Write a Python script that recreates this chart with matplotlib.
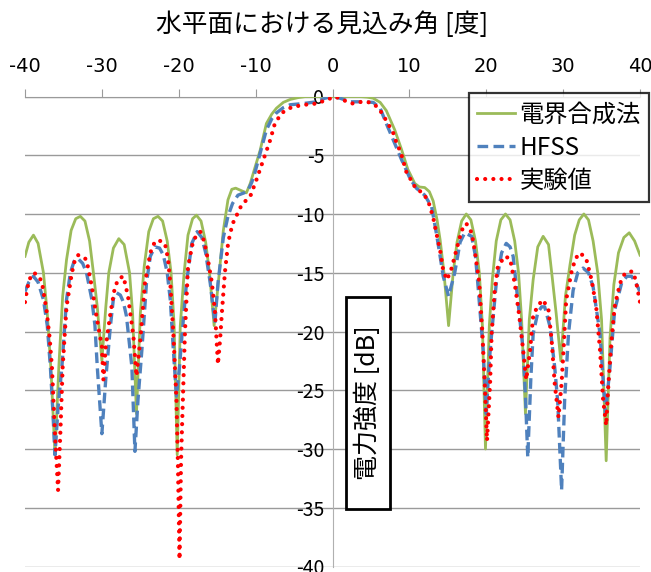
import matplotlib
matplotlib.use('Agg')
import matplotlib.pyplot as plt
from matplotlib.patches import Rectangle

plt.rcParams['font.family'] = ['Noto Sans CJK JP', 'DejaVu Sans']
plt.rcParams['axes.unicode_minus'] = False

# horizontal viewing angle [deg] vs. power [dB]
green_x = [-40.0, -39.5, -38.9, -38.3, -37.6, -37.1, -36.6, -36.1, -35.6, -35.1, -34.6, -34.0,
           -33.4, -32.8, -32.2, -31.6, -31.1, -30.6, -30.0, -29.5, -29.1, -28.5, -27.8, -27.1,
           -26.4, -26.0, -25.5, -25.0, -24.5, -23.9, -23.3, -22.7, -22.1, -21.5, -21.0, -20.6,
           -20.2, -19.8, -19.3, -18.8, -18.2, -17.7, -17.1, -16.5, -16.0, -15.4, -14.8, -14.2,
           -13.6, -13.1, -12.6, -11.9, -11.2, -10.7, -10.2, -9.4, -8.6, -7.9, -7.3, -6.4, -5.5,
           -4.5, -3.5, 0.0, 3.5, 4.5, 5.3, 6.2, 7.0, 8.1, 9.0, 9.8, 10.7, 11.3, 12.0, 12.6, 13.1,
           13.6, 14.0, 14.5, 15.1, 15.7, 16.2, 16.8, 17.4, 18.0, 18.6, 19.1, 19.5, 19.9, 20.4,
           20.8, 21.3, 21.9, 22.5, 23.1, 23.7, 24.2, 24.6, 25.1, 25.6, 26.1, 26.7, 27.4, 28.1,
           28.6, 29.1, 29.7, 30.3, 30.9, 31.5, 32.1, 32.7, 33.3, 33.9, 34.5, 35.0, 35.6, 36.1,
           36.6, 37.2, 37.9, 38.6, 39.3, 40.0]
green_y = [-13.6, -12.4, -11.8, -12.5, -15.0, -18.5, -23.5, -30.5, -23.0, -17.0, -13.9, -11.4,
           -10.4, -10.2, -10.6, -12.3, -15.0, -17.9, -22.5, -18.0, -15.0, -12.9, -12.1, -12.6,
           -15.0, -18.5, -27.0, -18.5, -14.5, -11.5, -10.4, -10.2, -10.6, -12.3, -15.0, -19.5,
           -30.5, -19.5, -15.0, -11.8, -10.4, -10.1, -10.6, -12.4, -15.0, -19.5, -15.5, -11.4,
           -8.8, -7.9, -7.8, -8.0, -8.2, -7.4, -6.3, -4.55, -2.3, -1.5, -1.0, -0.5, -0.25,
           -0.1, 0.0, 0.0, 0.0, -0.05, -0.15, -0.5, -1.2, -2.85, -4.55, -6.2, -7.4, -7.7, -7.75,
           -8.1, -8.9, -10.5, -12.2, -15.0, -19.5, -15.0, -12.4, -10.6, -10.0, -10.5, -12.3,
           -15.0, -19.5, -30.0, -19.5, -15.5, -12.3, -10.5, -10.0, -10.5, -12.3, -15.0, -19.0,
           -27.0, -19.0, -15.6, -12.8, -11.9, -12.6, -15.5, -18.5, -22.5, -17.0, -14.3, -11.8,
           -10.5, -10.0, -10.5, -12.3, -15.0, -19.0, -31.0, -20.5, -16.0, -13.3, -12.0, -11.6,
           -12.3, -13.5]

hfss_x = [-40.0, -39.5, -38.9, -38.3, -37.6, -37.1, -36.7, -36.4, -36.1, -35.7, -35.2, -34.6,
          -34.1, -33.6, -33.1, -32.5, -32.0, -31.3, -30.9, -30.6, -30.0, -29.5, -28.9, -28.5,
          -28.1, -27.6, -27.2, -26.8, -26.1, -25.7, -25.3, -24.8, -24.2, -23.7, -23.1, -22.5,
          -22.0, -21.5, -21.1, -20.7, -20.3, -19.9, -19.6, -19.0, -18.3, -17.6, -17.0, -16.5,
          -15.9, -15.3, -14.9, -14.2, -13.6, -13.0, -12.3, -11.5, -11.0, -10.5, -10.1, -9.4,
          -8.6, -7.9, -7.3, -6.4, -5.5, -3.8, -2.1, -1.0, 0.0, 1.0, 2.3, 3.8, 5.3, 6.2, 7.0,
          8.1, 9.0, 10.1, 10.9, 12.0, 12.9, 13.5, 14.0, 14.4, 15.1, 15.9, 16.6, 17.2, 18.1,
          18.6, 18.9, 19.6, 20.0, 20.4, 20.7, 21.3, 22.0, 22.6, 23.1, 23.5, 24.1, 24.8, 25.1,
          25.4, 25.8, 26.1, 26.7, 27.2, 27.6, 28.3, 28.9, 29.3, 29.8, 30.2, 30.7, 31.3, 31.9,
          32.6, 33.3, 33.9, 34.8, 35.5, 36.1, 36.7, 37.6, 38.3, 38.9, 39.4, 40.0]
hfss_y = [-16.6, -15.8, -15.3, -15.8, -17.3, -19.5, -23.0, -26.5, -30.5, -26.5, -23.0, -17.3,
          -15.0, -14.0, -13.8, -14.2, -15.0, -17.3, -19.5, -23.0, -28.7, -24.1, -19.6, -17.2,
          -16.7, -16.9, -17.5, -18.7, -23.0, -30.2, -25.8, -21.6, -15.9, -13.6, -12.8, -12.9,
          -13.5, -15.0, -17.3, -21.6, -25.5, -23.0, -20.5, -15.9, -12.5, -11.5, -12.0, -13.3,
          -15.9, -19.3, -15.9, -12.0, -10.2, -9.1, -8.4, -8.2, -8.0, -7.3, -6.5, -4.8,
          -2.85, -1.9, -1.4, -0.95, -0.7, -0.6, -0.45, -0.15, 0.0, -0.15, -0.45, -0.45, -0.5,
          -1.0, -2.3, -4.0, -5.4, -7.0, -7.8, -8.4, -9.4, -11.6, -13.6, -15.3, -17.0, -15.0,
          -12.4, -11.6, -11.9, -13.6, -15.9, -21.6, -27.0, -22.5, -20.2, -15.9, -13.3, -12.5,
          -12.8, -13.6, -17.3, -21.6, -25.5, -30.7, -24.0, -20.2, -18.4, -17.9, -17.9, -19.6,
          -23.0, -26.0, -33.5, -25.8, -20.2, -16.5, -15.0, -14.6, -15.0, -16.2, -20.2, -27.0,
          -23.0, -18.2, -15.9, -15.3, -15.3, -15.8, -16.6]

meas_x = [-40.0, -39.7, -39.3, -38.9, -38.3, -37.8, -37.2, -36.8, -36.5, -36.1, -35.7, -35.4,
          -35.1, -34.6, -33.9, -33.5, -33.1, -32.5, -32.0, -31.3, -30.7, -30.0, -29.8, -29.5,
          -28.9, -28.3, -27.8, -27.2, -26.6, -25.9, -25.5, -25.0, -24.4, -23.7, -23.2, -22.7,
          -21.8, -21.4, -21.1, -20.7, -20.3, -20.1, -19.9, -19.7, -19.6, -19.2, -18.8, -18.1,
          -17.2, -16.7, -16.2, -15.7, -15.3, -14.9, -14.6, -14.4, -14.0, -13.6, -13.3, -12.9,
          -11.8, -10.7, -9.9, -9.0, -8.1, -7.5, -6.6, -5.3, -3.6, -2.1, -0.8, 0.3, 1.4, 2.5,
          3.8, 4.9, 5.9, 6.6, 7.2, 7.9, 8.3, 8.9, 9.6, 10.3, 10.9, 11.8, 12.5, 13.1, 13.5, 14.0,
          14.4, 14.9, 15.5, 16.1, 16.8, 17.4, 18.1, 18.5, 19.1, 19.5, 19.8, 20.1, 20.5, 20.7,
          21.1, 21.5, 22.4, 23.1, 23.7, 24.3, 24.8, 25.2, 25.7, 26.1, 26.7, 27.4, 28.1, 28.5,
          28.9, 29.4, 29.8, 30.1, 30.4, 31.1, 31.6, 32.2, 33.0, 33.7, 34.3, 34.8, 35.2, 35.6,
          35.9, 36.3, 36.7, 37.4, 38.0, 38.5, 39.1, 39.5, 40.0]
meas_y = [-17.5, -16.3, -15.4, -15.0, -15.2, -15.8, -18.2, -20.5, -23.0, -28.7, -33.5, -28.6,
          -23.0, -17.9, -15.0, -13.9, -13.5, -13.6, -13.9, -16.2, -18.7, -21.3, -24.1, -21.3,
          -18.5, -16.2, -15.5, -15.3, -17.0, -20.4, -23.8, -20.7, -15.9, -13.3, -12.5, -12.2,
          -12.5, -13.8, -15.9, -20.2, -25.8, -31.5, -39.4, -31.0, -28.7, -20.2, -14.5, -12.2,
          -11.5, -12.3, -13.9, -15.8, -18.2, -22.8, -20.5, -18.5, -15.0, -12.6, -11.6, -10.7,
          -9.2, -8.5, -7.1, -5.4, -3.7, -2.3, -1.4, -0.9, -0.7, -0.6, -0.3, 0.0, -0.3, -0.6,
          -0.45, -0.5, -0.9, -1.6, -2.3, -3.1, -3.9, -4.8, -6.4, -7.2, -7.9, -8.2, -9.0, -10.3,
          -11.6, -13.1, -14.8, -15.6, -14.6, -13.1, -11.4, -10.8, -11.6, -13.1, -15.9, -20.2,
          -24.4, -29.3, -24.4, -20.2, -16.5, -14.5, -13.6, -13.8, -15.9, -18.7, -21.6, -24.1,
          -21.6, -18.7, -17.8, -17.3, -18.2, -20.7, -24.4, -27.3, -24.4, -21.0, -17.3, -14.9,
          -13.8, -13.3, -13.8, -15.6, -17.9, -21.6, -25.8, -28.0, -24.4, -20.7, -17.9, -15.9,
          -15.1, -14.9, -14.9, -15.8, -17.5]

x_ticks = [-40, -30, -20, -10, 0, 10, 20, 30, 40]
y_ticks = [0, -5, -10, -15, -20, -25, -30, -35, -40]
series_names = ['電界合成法', 'HFSS', '実験値']

grid_col = '#9a9a9a'

fig = plt.figure(figsize=(6.51, 5.72), dpi=100)
ax = fig.add_axes([25 / 651, 5.5 / 572, 615 / 651, 470 / 572])

ax.plot(green_x, green_y, color='#9bbb59', lw=2.0, label=series_names[0], zorder=3)
ax.plot(hfss_x, hfss_y, color='#4f81bd', lw=2.4, linestyle=(0, (3.2, 1.6)),
        label=series_names[1], zorder=4)
ax.plot(meas_x, meas_y, color='#ff0000', lw=3.0, linestyle=(0, (0.01, 1.95)),
        dash_capstyle='round', label=series_names[2], zorder=5)

ax.set_xlim(-40, 40)
ax.set_ylim(-40, 0)

# x axis along the top, y axis through x = 0
ax.xaxis.tick_top()
ax.set_xticks(x_ticks)
ax.set_xticklabels([str(v) for v in x_ticks], family='DejaVu Sans')
ax.set_yticks(y_ticks)
ax.set_yticklabels([str(v) for v in y_ticks], family='DejaVu Sans')
ax.spines['left'].set_position(('data', 0))
ax.spines['left'].set_color('#b0b0b0')
ax.spines['top'].set_color(grid_col)
ax.spines['right'].set_visible(False)
ax.spines['bottom'].set_visible(False)
ax.tick_params(axis='x', direction='out', length=6, color=grid_col, labelsize=14, pad=9)
ax.tick_params(axis='y', length=0, labelsize=14, pad=6)
ax.yaxis.grid(True, color=grid_col, lw=1.0)
ax.set_axisbelow(True)
for lbl in ax.get_yticklabels():
    lbl.set_zorder(10)

fig.text(322 / 651, 1 - 25 / 572, '水平面における見込み角 [度]', fontsize=18.5,
         ha='center', va='center')

# boxed y-axis label in the middle of the plot
fig.add_artist(Rectangle((346 / 651, (572 - 509) / 572), 44 / 651, 212 / 572,
                         transform=fig.transFigure, facecolor='white',
                         edgecolor='black', lw=2.0, zorder=8))
fig.text(368 / 651, 1 - 403 / 572, '電力強度 [dB]', fontsize=18, rotation=90,
         ha='center', va='center', zorder=9)

leg = ax.legend(loc='upper right', bbox_to_anchor=(1.015, 1.008), fontsize=17.5,
                frameon=True, fancybox=False, handlelength=1.55, handletextpad=0.18,
                labelspacing=0.3, borderpad=0.35, borderaxespad=0)
leg.get_frame().set_edgecolor('black')
leg.get_frame().set_linewidth(1.6)
leg.set_zorder(12)

fig.savefig('out.png', dpi=100)
